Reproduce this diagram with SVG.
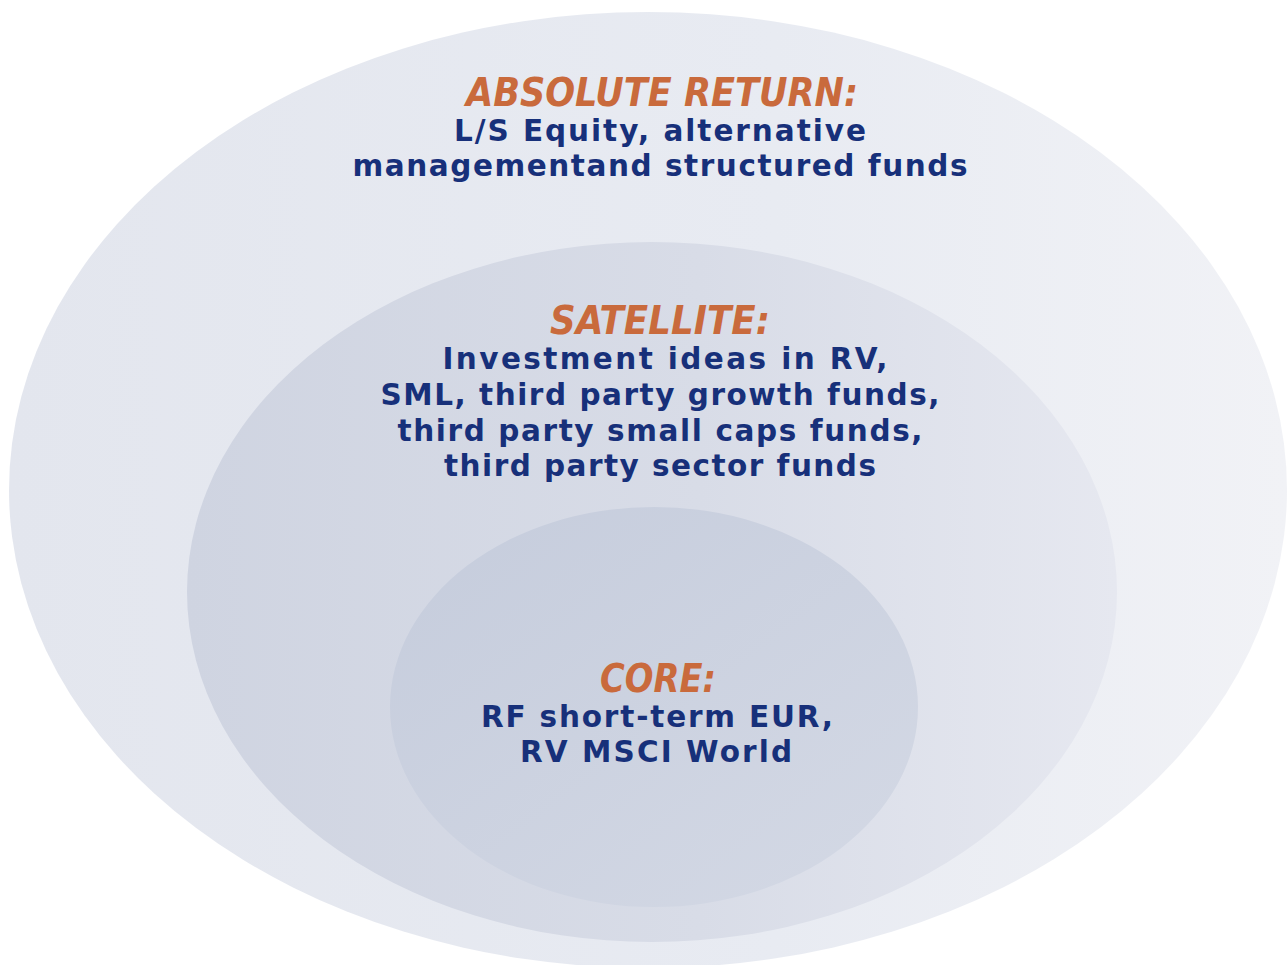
<svg xmlns="http://www.w3.org/2000/svg" width="1288" height="965" viewBox="0 0 1288 965">
<defs>
<linearGradient id="gOuter" x1="0" y1="0" x2="1" y2="0">
<stop offset="0" stop-color="#e3e6ee"/>
<stop offset="0.6" stop-color="#e8ebf2"/>
<stop offset="1" stop-color="#f1f2f6"/>
</linearGradient>
<linearGradient id="gMid" x1="0" y1="0" x2="1" y2="0">
<stop offset="0" stop-color="#cfd4e1"/>
<stop offset="0.55" stop-color="#d8dce7"/>
<stop offset="1" stop-color="#e6e8f0"/>
</linearGradient>
<linearGradient id="gInner" x1="0" y1="0" x2="1" y2="1">
<stop offset="0" stop-color="#c5ccdc"/>
<stop offset="1" stop-color="#d4d9e5"/>
</linearGradient>
</defs>
<style>
.title{font-family:"DejaVu Sans Condensed","DejaVu Sans",sans-serif;font-weight:bold;font-style:italic;font-size:39px;fill:#c96a3c;text-anchor:middle}
.body{font-family:"DejaVu Sans","Verdana",sans-serif;font-weight:bold;font-size:29.5px;fill:#17307a;text-anchor:middle}
</style>
<rect width="1288" height="965" fill="#ffffff"/>
<g id="absolute-return">
<ellipse cx="648" cy="490" rx="639" ry="478" fill="url(#gOuter)"/>
<text class="title" x="662" y="106" textLength="392" lengthAdjust="spacingAndGlyphs">ABSOLUTE RETURN:</text>
<text class="body" x="660" y="141" textLength="412" lengthAdjust="spacing">L/S Equity, alternative</text>
<text class="body" x="660" y="176" textLength="615" lengthAdjust="spacing">managementand structured funds</text>
</g>
<g id="satellite">
<ellipse cx="652" cy="592" rx="465" ry="350" fill="url(#gMid)"/>
<text class="title" x="660" y="334" textLength="220" lengthAdjust="spacingAndGlyphs">SATELLITE:</text>
<text class="body" x="665" y="369" textLength="445" lengthAdjust="spacing">Investment ideas in RV,</text>
<text class="body" x="660" y="405" textLength="559" lengthAdjust="spacing">SML, third party growth funds,</text>
<text class="body" x="660" y="441" textLength="525" lengthAdjust="spacing">third party small caps funds,</text>
<text class="body" x="660" y="476" textLength="432" lengthAdjust="spacing">third party sector funds</text>
</g>
<g id="core">
<ellipse cx="654" cy="707" rx="264" ry="200" fill="url(#gInner)"/>
<text class="title" x="658" y="692" textLength="116" lengthAdjust="spacingAndGlyphs">CORE:</text>
<text class="body" x="657" y="727" textLength="352" lengthAdjust="spacing">RF short-term EUR,</text>
<text class="body" x="656" y="762" textLength="272" lengthAdjust="spacing">RV MSCI World</text>
</g>
<g id="connectors"/>
</svg>
